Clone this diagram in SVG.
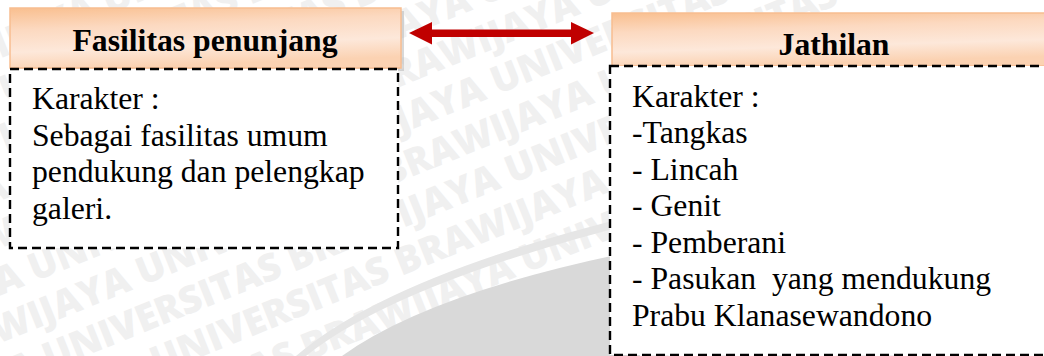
<svg xmlns="http://www.w3.org/2000/svg" width="1044" height="356" viewBox="0 0 1044 356">
  <defs>
    <linearGradient id="hdrFill" x1="0" y1="0" x2="0.25" y2="1">
      <stop offset="0" stop-color="#f9bf8f"/>
      <stop offset="0.35" stop-color="#fcd9c0"/>
      <stop offset="0.7" stop-color="#fde8da"/>
      <stop offset="1" stop-color="#fbd2b2"/>
    </linearGradient>
    <style>
      .hdr { fill: url(#hdrFill); stroke: #f8bd90; stroke-width: 1.5; }
      .shadow { fill: #b8b8b8; opacity: 0.55; }
      .body { fill: #ffffff; stroke: #000000; stroke-width: 2.4; stroke-dasharray: 9 5; }
      .title { font-family: 'Liberation Serif', serif; font-weight: bold; font-size: 31.7px; fill: #000000; text-anchor: middle; }
      .txt { font-family: 'Liberation Serif', serif; font-size: 31.7px; fill: #000000; }
      .wm { font-family: 'Open Sans', sans-serif; font-weight: 800; font-size: 38px; fill: #f0f0f0; }
    </style>
  </defs>

  <rect x="0" y="0" width="1044" height="356" fill="#ffffff"/>

  <!-- background seal: lettering and arc bands -->
  <g id="seal">
    <g transform="rotate(-22 500 180)">
      <text class="wm" x="-300" y="-120">UNIVERSITAS BRAWIJAYA UNIVERSITAS BRAWIJAYA UNIVERSITAS</text>
      <text class="wm" x="-260" y="-76">ITAS BRAWIJAYA UNIVERSITAS BRAWIJAYA UNIVERSITAS BRA</text>
      <text class="wm" x="-330" y="-32">UNIVERSITAS BRAWIJAYA UNIVERSITAS BRAWIJAYA UNIVERSITAS</text>
      <text class="wm" x="-280" y="12">ITAS BRAWIJAYA UNIVERSITAS BRAWIJAYA UNIVERSITAS BRA</text>
      <text class="wm" x="-350" y="56">UNIVERSITAS BRAWIJAYA UNIVERSITAS BRAWIJAYA UNIVERSITAS</text>
      <text class="wm" x="-300" y="100">ITAS BRAWIJAYA UNIVERSITAS BRAWIJAYA UNIVERSITAS BRA</text>
      <text class="wm" x="-370" y="144">UNIVERSITAS BRAWIJAYA UNIVERSITAS BRAWIJAYA UNIVERSITAS</text>
      <text class="wm" x="-320" y="188">ITAS BRAWIJAYA UNIVERSITAS BRAWIJAYA UNIVERSITAS BRA</text>
      <text class="wm" x="-390" y="232">UNIVERSITAS BRAWIJAYA UNIVERSITAS BRAWIJAYA UNIVERSITAS</text>
      <text class="wm" x="-340" y="276">ITAS BRAWIJAYA UNIVERSITAS BRAWIJAYA UNIVERSITAS BRA</text>
      <text class="wm" x="-410" y="320">UNIVERSITAS BRAWIJAYA UNIVERSITAS BRAWIJAYA UNIVERSITAS</text>
      <text class="wm" x="-360" y="364">ITAS BRAWIJAYA UNIVERSITAS BRAWIJAYA UNIVERSITAS BRA</text>
      <text class="wm" x="-430" y="408">UNIVERSITAS BRAWIJAYA UNIVERSITAS BRAWIJAYA UNIVERSITAS</text>
      <text class="wm" x="-380" y="452">ITAS BRAWIJAYA UNIVERSITAS BRAWIJAYA UNIVERSITAS BRA</text>
      <text class="wm" x="-450" y="496">UNIVERSITAS BRAWIJAYA UNIVERSITAS BRAWIJAYA UNIVERSITAS</text>
    </g>
    <path d="M 296 356 Q 390 275 640 214 L 640 222 Q 398 283 306 356 Z" fill="#e6e6e6"/>
    <path d="M 342 356 Q 430 292 640 250 L 640 356 Z" fill="#d9d9d9"/>
  </g>

  <!-- connector: double-headed arrow -->
  <g id="connectors">
    <polygon points="409,33 432,22 432,29.5 571,29.5 571,22 594,33 571,44.5 571,37 432,37 432,44.5" fill="#c00000"/>
  </g>

  <!-- node: Fasilitas penunjang -->
  <g id="node-fasilitas">
    <rect class="shadow" x="13" y="11" width="391" height="60"/>
    <rect class="hdr" x="10" y="8" width="391" height="60"/>
    <rect class="body" x="10" y="69" width="388" height="179"/>
    <text class="title" x="205" y="51">Fasilitas penunjang</text>
    <text class="txt" x="32" y="109">Karakter :</text>
    <text class="txt" x="32" y="145.5">Sebagai fasilitas umum</text>
    <text class="txt" x="32" y="182">pendukung dan pelengkap</text>
    <text class="txt" x="32" y="218.5">galeri.</text>
  </g>

  <!-- node: Jathilan -->
  <g id="node-jathilan">
    <rect class="hdr" x="612" y="13" width="445" height="53"/>
    <rect class="body" x="610" y="66" width="450" height="289"/>
    <text class="title" x="834" y="55">Jathilan</text>
    <text class="txt" x="632" y="106.5">Karakter :</text>
    <text class="txt" x="632" y="143">-Tangkas</text>
    <text class="txt" x="632" y="179.5">- Lincah</text>
    <text class="txt" x="632" y="216">- Genit</text>
    <text class="txt" x="632" y="252.5">- Pemberani</text>
    <text class="txt" x="632" y="289">- Pasukan&#160; yang mendukung</text>
    <text class="txt" x="632" y="326">Prabu Klanasewandono</text>
  </g>
</svg>
